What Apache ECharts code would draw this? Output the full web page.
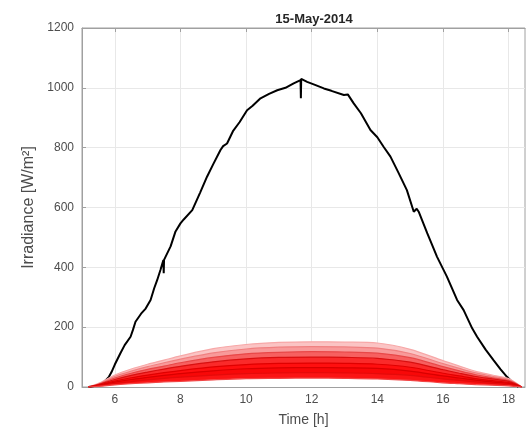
<!DOCTYPE html>
<html><head><meta charset="utf-8">
<script src="https://cdn.jsdelivr.net/npm/echarts@6/dist/echarts.min.js"></script>
<style>html,body{margin:0;padding:0;background:#fff}#c{width:526px;height:434px}</style>
</head><body><div id="c"></div>
<script>
const chartTitle = '15-May-2014';
const xName = 'Time [h]';
const yName = 'Irradiance [W/m²]';
const xTicks = [6, 8, 10, 12, 14, 16, 18];

const blackTime = [5.2, 5.45, 5.66, 5.82, 5.9, 6.0, 6.17, 6.3, 6.48, 6.55, 6.63, 6.8, 6.94, 7.09, 7.2, 7.29, 7.39, 7.48, 7.49, 7.5, 7.7, 7.85, 8.0, 8.1, 8.36, 8.6, 8.81, 9.0, 9.22, 9.3, 9.42, 9.6, 9.8, 10.03, 10.2, 10.44, 10.7, 10.95, 11.2, 11.45, 11.66, 11.67, 11.68, 11.86, 12.1, 12.37, 12.6, 12.98, 13.1, 13.28, 13.5, 13.79, 14.0, 14.19, 14.4, 14.65, 14.9, 15.11, 15.2, 15.26, 15.52, 15.65, 15.82, 16.12, 16.43, 16.63, 16.89, 17.04, 17.3, 17.54, 17.75, 17.95, 18.1, 18.3];
const blackValue = [0, 5, 15, 34, 50, 75, 113, 140, 168, 190, 218, 245, 262, 291, 330, 357, 391, 424, 380, 425, 470, 520, 547, 560, 591, 650, 703, 745, 792, 805, 814, 855, 885, 925, 940, 965, 980, 992, 1000, 1015, 1026, 965, 1030, 1020, 1010, 998, 990, 976, 978, 948, 915, 859, 835, 803, 770, 715, 658, 586, 596, 586, 514, 480, 435, 369, 291, 257, 196, 168, 125, 90, 60, 34, 18, 0];

const redTime = [5.2, 5.5, 6, 6.5, 7, 7.5, 8, 9, 10, 11, 12, 13, 14, 15, 16, 16.5, 17, 17.5, 18, 18.4];
const red1 = [0, 2, 7, 11, 14, 17, 19, 24, 28, 29, 30, 29, 27, 22, 14, 11, 8, 6, 4, 0];
const red2 = [0, 4, 12, 18, 24, 29, 33, 40, 45, 47, 48, 47, 45, 39, 27, 22, 17, 12, 8, 0];
const red3 = [0, 5, 16, 25, 32, 39, 45, 54, 61, 64, 65, 64, 62, 53, 37, 30, 23, 17, 12, 0];
const red4 = [0, 6, 20, 31, 40, 48, 55, 67, 75, 79, 80, 79, 76, 66, 46, 37, 28, 21, 15, 0];
const red5 = [0, 8, 25, 39, 50, 60, 69, 84, 94, 99, 100, 99, 96, 83, 58, 46, 35, 27, 19, 0];
const red6 = [0, 9, 30, 46, 59, 70, 81, 99, 111, 116, 118, 117, 113, 98, 68, 54, 41, 31, 22, 0];
const red7 = [0, 10, 35, 53, 68, 81, 93, 114, 127, 133, 135, 134, 130, 112, 78, 62, 47, 36, 25, 0];
const red8 = [0, 12, 40, 60, 76, 90, 104, 128, 142, 149, 151, 150, 147, 126, 88, 70, 52, 40, 28, 0];

// drawn from top curve down; each fills down to the axis with the colour of the band above it
const redCurves = [red8, red7, red6, red5, red4, red3, red2, red1];
const fillColors = ['#fbc4c4', '#f89a9a', '#f76060', '#fa2a2a', '#ff0f0f', '#f80808', '#fb1414', '#ffffff'];
const lineColors = ['#f7a8a8', '#f08080', '#e84848', '#d81010', '#e00000', '#d80000', '#e40a0a', '#f24545'];

const font = 'Liberation Sans, Arial, sans-serif';
const series = [];
series.push({
  type: 'line', name: 'clear', data: blackTime.map((t, i) => [t, blackValue[i]]),
  showSymbol: false, lineStyle: { color: '#000', width: 2 }, z: 2
});
redCurves.forEach((c, k) => {
  series.push({
    type: 'line',
    data: redTime.map((t, i) => [t, c[i]]),
    showSymbol: false, smooth: 0.3,
    lineStyle: { color: lineColors[k], width: 1.2 },
    areaStyle: { color: fillColors[k], opacity: 1 },
    z: 3
  });
});

const chart = echarts.init(document.getElementById('c'), null, { renderer: 'canvas' });
chart.setOption({
  animation: false,
  backgroundColor: '#fff',
  title: {
    text: chartTitle, left: 309, top: 8, textAlign: 'center',
    textStyle: { fontFamily: font, fontSize: 13, fontWeight: 'bold', color: '#262626' }
  },
  grid: { left: 82, right: 1, top: 28, bottom: 47, show: true, borderColor: '#a0a0a0', borderWidth: 1, backgroundColor: 'transparent' },
  xAxis: [{
    type: 'value', min: 5, max: 18.5, splitNumber: 7,
    axisLine: { show: true, lineStyle: { color: '#a0a0a0' } },
    axisTick: { show: true, inside: true, length: 4, customValues: xTicks, lineStyle: { color: '#a0a0a0' } },
    axisLabel: { customValues: xTicks, color: '#4d4d4d', fontSize: 12, margin: 7, fontFamily: font },
    splitLine: { show: true, lineStyle: { color: '#e8e8e8' } },
    name: xName, nameLocation: 'middle', nameGap: 26,
    nameTextStyle: { color: '#4d4d4d', fontSize: 14, fontFamily: font }
  }, {
    type: 'value', min: 5, max: 18.5, position: 'top',
    axisLine: { show: true, lineStyle: { color: '#a0a0a0' } },
    axisTick: { show: true, inside: true, length: 4, customValues: xTicks, lineStyle: { color: '#a0a0a0' } },
    axisLabel: { show: false }, splitLine: { show: false }
  }],
  yAxis: {
    type: 'value', min: 0, max: 1200, interval: 200,
    axisLine: { show: true, lineStyle: { color: '#a0a0a0' } },
    axisTick: { show: true, inside: true, length: 4, lineStyle: { color: '#a0a0a0' } },
    axisLabel: { color: '#4d4d4d', fontSize: 12, margin: 8, fontFamily: font, formatter: v => String(v) },
    splitLine: { show: true, lineStyle: { color: '#e8e8e8' } },
    name: yName, nameLocation: 'middle', nameGap: 42, nameRotate: 90,
    nameTextStyle: { color: '#4d4d4d', fontSize: 16, fontFamily: font }
  },
  series: series
});
</script>
</body></html>
